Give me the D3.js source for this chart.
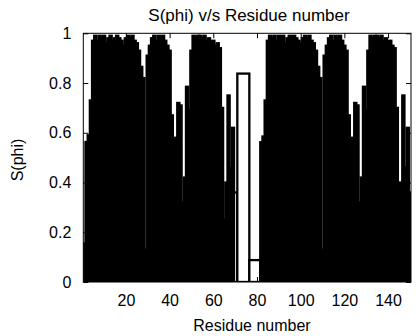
<!DOCTYPE html>
<html>
<head>
<meta charset="utf-8">
<script src="https://cdn.jsdelivr.net/npm/d3@7"></script>
<style>
  html, body { margin: 0; padding: 0; background: #fff; }
  svg { display: block; }
  text { font-family: "Liberation Sans", Arial, Helvetica, sans-serif; fill: #000; }
</style>
</head>
<body>
<svg id="chart" width="416" height="336"></svg>
<script>
// S(phi) order parameter per residue (two chains of a dimer)
const chainAStart = 1;
const chainA = [
  0.155, 0.563, 0.59, 0.73, 0.97, 0.99, 0.97, 0.99, 0.98, 0.99,
  0.96, 0.98, 0.99, 0.97, 0.98, 0.99, 0.98, 0.97, 0.95, 0.98,
  0.99, 0.98, 0.99, 0.97, 0.96, 0.93, 0.865, 0.82, 0.13, 0.91,
  0.95, 0.98, 0.99, 0.97, 0.99, 0.98, 0.99, 0.97, 0.95, 0.93,
  0.67, 0.50, 0.58, 0.72, 0.71, 0.32, 0.42, 0.785, 0.69, 0.93,
  0.99, 0.98, 0.99, 0.99, 0.98, 0.99, 0.97, 0.98, 0.96, 0.97,
  0.95, 0.96, 0.94, 0.70, 0.25, 0.40, 0.75, 0.46, 0.62, 0.36
];
// isolated residues between the two chains
const linkerResidues = [72, 81];
const linkerValues = [0.838, 0.088];

const chainBStart = 82;
const chainB = [
  0.562, 0.585, 0.73, 0.97, 0.99, 0.98, 0.99, 0.97, 0.99, 0.98,
  0.99, 0.96, 0.98, 0.99, 0.97, 0.99, 0.98, 0.97, 0.96, 0.98,
  0.99, 0.98, 0.99, 0.97, 0.96, 0.93, 0.865, 0.82, 0.13, 0.91,
  0.95, 0.98, 0.99, 0.97, 0.99, 0.98, 0.99, 0.97, 0.95, 0.93,
  0.67, 0.50, 0.58, 0.72, 0.71, 0.32, 0.42, 0.785, 0.69, 0.93,
  0.99, 0.98, 0.99, 0.99, 0.98, 0.99, 0.97, 0.98, 0.96, 0.97,
  0.95, 0.94, 0.70, 0.25, 0.40, 0.75, 0.46, 0.62, 0.36
];

const xTicks = [20, 40, 60, 80, 100, 120, 140];
const yTicks = [0, 0.2, 0.4, 0.6, 0.8, 1];
const yTickLabels = ["0", "0.2", "0.4", "0.6", "0.8", "1"];

const titleText = "S(phi) v/s Residue number";
const xLabelText = "Residue number";
const yLabelText = "S(phi)";

// assemble residue/value pairs in residue order
const points = [];
chainA.forEach((v, i) => points.push({ res: chainAStart + i, val: v }));
linkerResidues.forEach((r, i) => points.push({ res: r, val: linkerValues[i] }));
chainB.forEach((v, i) => points.push({ res: chainBStart + i, val: v }));
points.sort((a, b) => a.res - b.res);

// boxes extend halfway to their neighbours
points.forEach((p, i) => {
  const prev = points[i - 1], next = points[i + 1];
  const leftHalf = prev ? (p.res - prev.res) / 2 : (next.res - p.res) / 2;
  const rightHalf = next ? (next.res - p.res) / 2 : (p.res - prev.res) / 2;
  p.x0 = p.res - leftHalf;
  p.x1 = p.res + rightHalf;
});

const margin = { left: 83.3, right: 416 - 411, top: 33.3, bottom: 336 - 282 };
const W = 416, H = 336;

const x = d3.scaleLinear()
  .domain([d3.min(points, d => d.x0), d3.max(points, d => d.x1)])
  .range([margin.left, W - margin.right]);
const y = d3.scaleLinear().domain([0, 1]).range([H - margin.bottom, margin.top]);

const svg = d3.select("#chart");

svg.append("defs").append("clipPath").attr("id", "plotclip")
  .append("rect")
  .attr("x", margin.left).attr("y", margin.top - 2)
  .attr("width", W - margin.right - margin.left)
  .attr("height", H - margin.bottom - margin.top + 2);

// outlined boxes
svg.append("g").attr("clip-path", "url(#plotclip)")
  .selectAll("rect").data(points).join("rect")
  .attr("x", d => x(d.x0))
  .attr("y", d => y(d.val))
  .attr("width", d => x(d.x1) - x(d.x0))
  .attr("height", d => y(0) - y(d.val))
  .attr("fill", "#fff")
  .attr("stroke", "#000")
  .attr("stroke-width", 2.3);

// frame
svg.append("rect")
  .attr("x", margin.left).attr("y", margin.top)
  .attr("width", W - margin.right - margin.left)
  .attr("height", H - margin.bottom - margin.top)
  .attr("fill", "none").attr("stroke", "#000").attr("stroke-width", 1);

const tickLen = 5;

// axes with inward ticks, mirrored on the opposite sides
const bottomAxis = d3.axisBottom(x).tickValues(xTicks).tickSize(-tickLen).tickPadding(13).tickFormat(d3.format("d"));
const gB = svg.append("g").attr("transform", `translate(0,${y(0)})`).call(bottomAxis);
const topAxis = d3.axisTop(x).tickValues(xTicks).tickSize(-tickLen).tickFormat("");
const gT = svg.append("g").attr("transform", `translate(0,${y(1)})`).call(topAxis);
const leftAxis = d3.axisLeft(y).tickValues(yTicks).tickSize(-tickLen).tickPadding(12)
  .tickFormat((d, i) => yTickLabels[i]);
const gL = svg.append("g").attr("transform", `translate(${x.range()[0]},0)`).call(leftAxis);
const rightAxis = d3.axisRight(y).tickValues(yTicks).tickSize(-tickLen).tickFormat("");
const gR = svg.append("g").attr("transform", `translate(${x.range()[1]},0)`).call(rightAxis);

[gB, gT, gL, gR].forEach(g => {
  g.select(".domain").remove();
  g.selectAll(".tick line").attr("stroke", "#000");
  g.selectAll("text").style("font-size", "16px").attr("fill", "#000")
    .style("font-family", '"Liberation Sans", Arial, sans-serif');
});

svg.append("text").attr("x", 249).attr("y", 21).attr("text-anchor", "middle")
  .style("font-size", "17px").text(titleText);
svg.append("text").attr("x", 252).attr("y", 331).attr("text-anchor", "middle")
  .style("font-size", "16px").text(xLabelText);
svg.append("text").attr("transform", "translate(23,160) rotate(-90)").attr("text-anchor", "middle")
  .style("font-size", "16px").text(yLabelText);
</script>
</body>
</html>
